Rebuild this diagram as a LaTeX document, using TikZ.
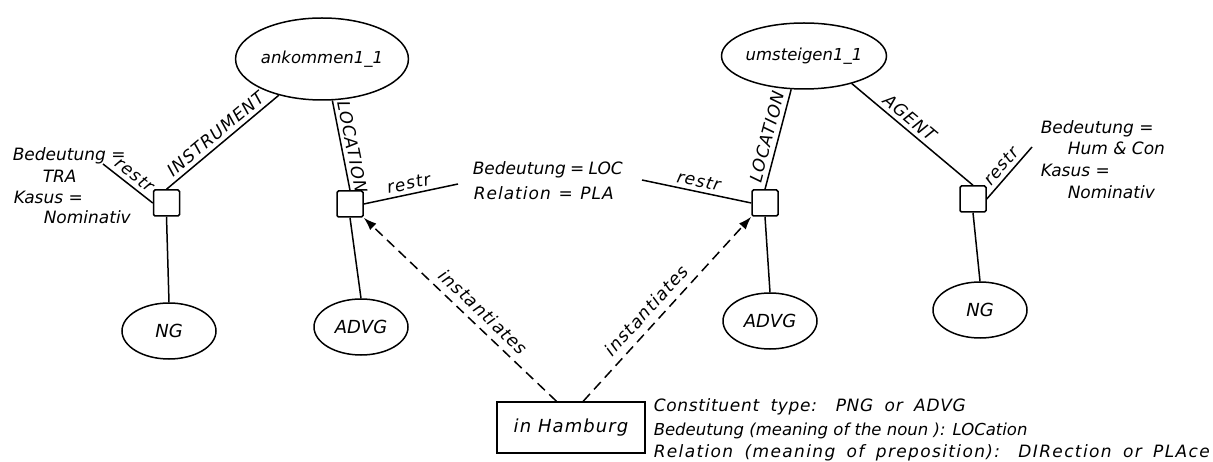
\documentclass[tikz,border=0pt]{standalone}
\usepackage{fontspec}
\setmainfont{DejaVu Sans}[ItalicFont={DejaVu Sans Oblique}]
\newfontfamily\spaced{DejaVu Sans}[ItalicFont={DejaVu Sans Oblique},LetterSpace=6]
\newfontfamily\spacedb{DejaVu Sans}[ItalicFont={DejaVu Sans Oblique},LetterSpace=4]
\newfontfamily\spacedc{DejaVu Sans}[ItalicFont={DejaVu Sans Oblique},LetterSpace=8]
\usetikzlibrary{shapes.geometric,arrows.meta}
\begin{document}
\begin{tikzpicture}[x=1pt,y=-1pt,
  font=\itshape\fontsize{17}{20}\selectfont,
  line width=1.5pt,
  ell/.style={ellipse, draw, inner sep=0pt, font=\itshape\fontsize{18}{20}\selectfont},
  sq/.style={rectangle, draw, minimum size=26pt, inner sep=0pt, rounded corners=1.5pt},
  lbl/.style={sloped, above, inner sep=4pt, font=\spaced\itshape\fontsize{17}{20}\selectfont},
  txt/.style={anchor=base west, inner sep=0pt},
  btxt/.style={anchor=base west, inner sep=0pt, font=\spacedb\itshape\fontsize{17}{20}\selectfont},
  inst/.style={dash pattern=on 10pt off 6pt, -{Latex[length=13pt,width=9pt]}}]
\useasboundingbox (0,0) rectangle (1213,462);
% upper ellipses
\node[ell, minimum width=134pt, minimum height=82pt, font=\itshape\fontsize{16.5}{20}\selectfont] (E1) at (322,59) {ankommen1\_1};
\node[ell, minimum width=132pt, minimum height=66pt, font=\itshape\fontsize{16.5}{20}\selectfont] (E2) at (804,56) {umsteigen1\_1};
% squares
\node[sq] (S1) at (166.5,203) {};
\node[sq] (S2) at (350,204) {};
\node[sq] (S3) at (765,203) {};
\node[sq] (S4) at (973,199) {};
% lower ellipses
\node[ell, minimum width=94pt, minimum height=56pt] (N1) at (169,331) {NG};
\node[ell, minimum width=94pt, minimum height=56pt] (A1) at (361,327) {ADVG};
\node[ell, minimum width=94pt, minimum height=56pt] (A2) at (770,321) {ADVG};
\node[ell, minimum width=94pt, minimum height=56pt] (N2) at (980,310) {NG};
% box
\node[draw, rectangle, minimum width=148pt, minimum height=51pt, inner sep=0pt, font=\spaced\itshape\fontsize{18}{20}\selectfont] (H) at (571,427.5) {in Hamburg};
% free ends
\coordinate (r1) at (103,164);
\coordinate (r2) at (458,184);
\coordinate (r3) at (642,180);
\coordinate (r4) at (1032,147);
% connectors
\draw (S1.north) -- node[lbl]{INSTRUMENT} (E1.220);
\draw (E1.284) -- node[lbl,pos=0.54]{LOCATION} (S2.north);
\draw (S3.north) -- node[lbl]{LOCATION} (E2.249);
\draw (E2.330) -- node[lbl,pos=0.42]{AGENT} (S4.north);
\draw (r1) -- node[lbl]{restr} (S1.west);
\draw (S2.east) -- node[lbl]{restr} (r2);
\draw (r3) -- node[lbl]{restr} (S3.west);
\draw (S4.east) -- node[lbl]{restr} (r4);
\draw (S1.south) -- (N1.north);
\draw (S2.south) -- (A1.north);
\draw (S3.south) -- (A2.north);
\draw (S4.south) -- (N2.north);
\draw[inst] (H.119) -- node[lbl,pos=0.43,inner sep=7pt,font=\spaced\itshape\fontsize{17.5}{20}\selectfont]{instantiates} (S2.south east);
\draw[inst] (H.65) -- node[lbl,pos=0.44,inner sep=7pt,font=\spaced\itshape\fontsize{17.5}{20}\selectfont]{instantiates} (S3.south west);
% texts
\node[txt] (t1) at (12,160.5) {Bedeutung =};
\node[txt] (t2) at (42,182.5) {TRA};
\node[txt] (t3) at (13,203.5) {Kasus =};
\node[txt] (t4) at (43,223.5) {Nominativ};
\node[txt] (m1) at (472,174.5) {\makebox[150pt][s]{Bedeutung = LOC}};
\node[txt, font=\spaced\itshape\fontsize{17}{20}\selectfont] (m2) at (473,199.5) {\makebox[140pt][s]{Relation = PLA}};
\node[txt] (u1) at (1040,133.5) {Bedeutung =};
\node[txt] (u2) at (1067,154.5) {Hum \& Con};
\node[txt] (u3) at (1040,176.5) {Kasus =};
\node[txt] (u4) at (1067,198.5) {Nominativ};
\node[btxt] (b1) at (653,411.5) {\makebox[312pt][s]{Constituent type: PNG or ADVG}};
\node[btxt, font=\itshape\fontsize{16.5}{20}\selectfont] (b2) at (653,435.5) {Bedeutung (meaning of the noun ): LOCation};
\node[btxt, font=\spacedc\itshape\fontsize{17}{20}\selectfont] (b3) at (653,457.5) {\makebox[556pt][s]{Relation (meaning of preposition): DIRection or PLAce}};
\end{tikzpicture}
\end{document}
